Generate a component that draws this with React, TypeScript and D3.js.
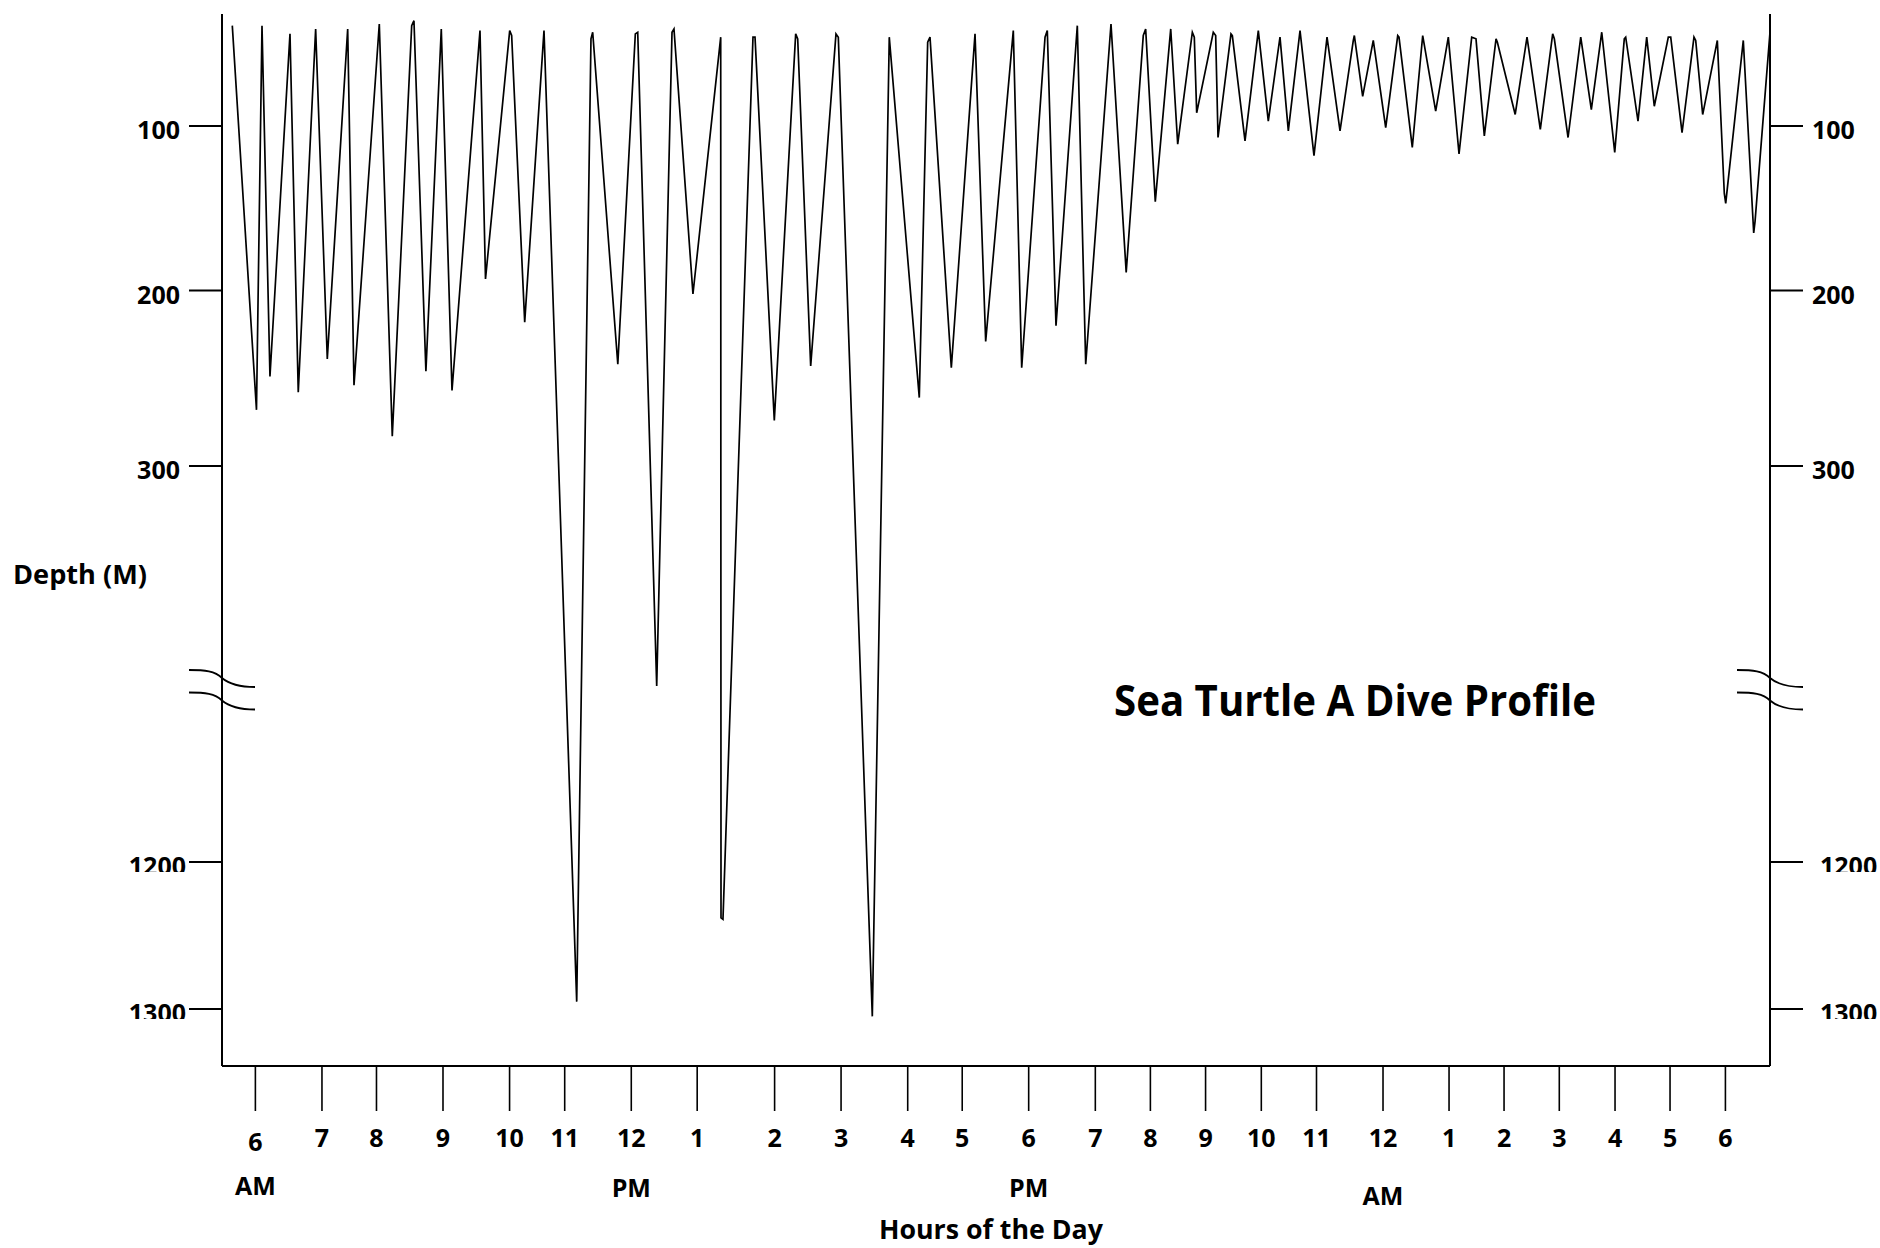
import * as d3 from "d3";

const WIDTH = 1880;
const HEIGHT = 1248;

// Hours of the day (decimal, 30 = 6 AM next day) at which the axis ticks sit
const tickHours = [
  6.0, 7.087, 7.977, 9.063, 10.15, 11.05, 12.137, 13.213, 14.477, 15.562, 16.65, 17.54,
  18.625, 19.713, 20.612, 21.513, 22.423, 23.324, 24.41, 25.488, 26.386, 27.288, 28.198,
  29.096, 30.0,
];
const tickLabels = [
  "6", "7", "8", "9", "10", "11", "12", "1", "2", "3", "4", "5",
  "6", "7", "8", "9", "10", "11", "12", "1", "2", "3", "4", "5", "6",
];
const periodLabels = ["AM", "PM", "PM", "AM"];
const periodHours = [6.0, 12.137, 18.625, 24.41];

const depthTicks = [100, 200, 300, 1200, 1300];
// depths hidden by the axis break
const BREAK_FROM = 420;
const BREAK_TO = 1100;

// Dive profile: time (hours) and depth (m) of every turning point
const diveHours = [
  5.623, 6.018, 6.108, 6.238, 6.565, 6.7, 6.984, 7.174, 7.507, 7.61, 8.023, 8.235,
  8.552, 8.589, 8.784, 9.035, 9.21, 9.667, 9.757, 10.152, 10.184, 10.397, 10.712, 11.246,
  11.479, 11.507, 11.917, 12.203, 12.242, 12.552, 12.802, 12.834, 13.144, 13.597, 13.602, 13.634,
  14.124, 14.157, 14.472, 14.821, 14.854, 15.066, 15.479, 15.517, 16.072, 16.349, 16.839, 16.976,
  17.014, 17.362, 17.749, 17.923, 18.374, 18.511, 18.892, 18.929, 19.071, 19.419, 19.556, 19.969,
  20.217, 20.496, 20.535, 20.692, 20.944, 21.058, 21.297, 21.329, 21.368, 21.639, 21.678, 21.716,
  21.928, 21.95, 22.157, 22.374, 22.537, 22.728, 22.864, 23.055, 23.283, 23.496, 23.708, 23.925,
  23.942, 24.078, 24.251, 24.454, 24.65, 24.671, 24.888, 25.058, 25.27, 25.476, 25.651, 25.858,
  25.928, 26.064, 26.255, 26.276, 26.568, 26.761, 26.978, 27.18, 27.207, 27.431, 27.638, 27.811,
  27.981, 28.193, 28.349, 28.372, 28.573, 28.715, 28.839, 29.068, 29.107, 29.292, 29.487, 29.515,
  29.629, 29.651, 29.868, 29.982, 30.005, 30.292, 30.462, 30.484, 30.73,
];
const diveDepths = [
  39, 268, 39, 249, 44, 258, 41, 239, 41, 254, 38, 283,
  39, 36, 246, 41, 257, 42, 193, 42, 45, 218, 42, 1295,
  47, 43, 242, 44, 43, 594, 43, 41, 202, 46, 1238, 1239,
  46, 46, 274, 44, 47, 243, 44, 46, 1305, 46, 261, 49,
  46, 244, 44, 229, 42, 244, 46, 42, 220, 39, 242, 38,
  189, 45, 41, 146, 41, 111, 43, 46, 92, 43, 45, 107,
  44, 45, 109, 42, 97, 46, 103, 42, 118, 46, 103, 48,
  45, 82, 48, 101, 45, 46, 113, 45, 91, 46, 117, 46,
  47, 106, 47, 49, 93, 46, 102, 44, 47, 107, 46, 90,
  43, 116, 47, 46, 97, 46, 88, 46, 46, 104, 46, 48,
  93, 89, 48, 141, 147, 48, 165, 158, 42,
];

const FONT = "'Open Sans', 'DejaVu Sans', sans-serif";
const AXIS_TOP = 14;
const AXIS_BOTTOM = 1066;
const Y_TICK = 33;
const X_TICK = 45;
// small vertical offsets of the AM/PM labels, as placed in the original
const PERIOD_DY = [-2, 0, 0, 8];

export default function App() {
  const xScale = d3.scaleLinear().domain([5.455, 30.728]).range([222, 1770]);
  // broken, slightly uneven depth axis as drawn in the original
  const yScale = d3
    .scaleLinear()
    .domain([100, 200, 300, BREAK_FROM, BREAK_TO, 1200, 1300])
    .range([126, 290.5, 466, 676, 715, 862, 1009]);

  const [left, right] = xScale.range();

  const points = diveHours.map((h, i) => [h, diveDepths[i]] as [number, number]);
  const line = d3
    .line<[number, number]>()
    .x((d) => xScale(d[0]))
    .y((d) => yScale(d[1]));

  const breakY = yScale(BREAK_FROM) - 6;
  const breakMark = (cx: number, y0: number) =>
    `M${cx - 33},${y0} C${cx - 17},${y0} ${cx - 7},${y0 + 1} ${cx},${y0 + 8} ` +
    `C${cx + 7},${y0 + 14} ${cx + 18},${y0 + 17} ${cx + 33},${y0 + 17}`;

  const lowerTicks = depthTicks.filter((t) => t > BREAK_TO);

  return (
    <svg
      width={WIDTH}
      height={HEIGHT}
      style={{ position: "absolute", left: 0, top: 0, background: "#fff" }}
      fontFamily={FONT}
      fontWeight={700}
    >
      <defs>
        {lowerTicks.map((t) => (
          <clipPath key={t} id={`clip-${t}`}>
            <rect x={0} y={yScale(t) - 20} width={WIDTH} height={30} />
          </clipPath>
        ))}
      </defs>

      {/* dive profile */}
      <path d={line(points) ?? ""} fill="none" stroke="#000" strokeWidth={1.7} />

      {/* frame */}
      <g stroke="#000" strokeWidth={2} fill="none">
        <line x1={left} x2={left} y1={AXIS_TOP} y2={AXIS_BOTTOM} />
        <line x1={right} x2={right} y1={AXIS_TOP} y2={AXIS_BOTTOM} />
        <line x1={left} x2={right} y1={AXIS_BOTTOM} y2={AXIS_BOTTOM} />
      </g>

      {/* axis break marks */}
      <g stroke="#000" strokeWidth={1.8} fill="none">
        {[left, right].map((cx) =>
          [0, 22.5].map((dy) => <path key={`${cx}-${dy}`} d={breakMark(cx, breakY + dy)} />)
        )}
      </g>

      {/* depth ticks, both sides */}
      {depthTicks.map((t) => {
        const y = yScale(t);
        const lower = t > BREAK_TO;
        const clip = lower ? `url(#clip-${t})` : undefined;
        return (
          <g key={t}>
            <line x1={left - Y_TICK} x2={left} y1={y} y2={y} stroke="#000" strokeWidth={2} />
            <line x1={right} x2={right + Y_TICK} y1={y} y2={y} stroke="#000" strokeWidth={2} />
            <text x={lower ? left - 36 : left - 42} y={y + 13} fontSize={25} textAnchor="end" clipPath={clip}>
              {t}
            </text>
            <text x={lower ? right + 50 : right + 42} y={y + 13} fontSize={25} textAnchor="start" clipPath={clip}>
              {t}
            </text>
          </g>
        );
      })}

      {/* hour ticks */}
      {tickHours.map((h, i) => {
        const x = xScale(h);
        return (
          <g key={i}>
            <line x1={x} x2={x} y1={AXIS_BOTTOM} y2={AXIS_BOTTOM + X_TICK} stroke="#000" strokeWidth={1.6} />
            <text x={x} y={i === 0 ? 1151 : 1147} fontSize={25} textAnchor="middle">
              {tickLabels[i]}
            </text>
          </g>
        );
      })}

      {periodLabels.map((p, i) => (
        <text key={i} x={xScale(periodHours[i])} y={1197 + PERIOD_DY[i]} fontSize={25} textAnchor="middle">
          {p}
        </text>
      ))}

      <text x={991} y={1239} fontSize={26} textAnchor="middle" textLength={224} lengthAdjust="spacingAndGlyphs">
        Hours of the Day
      </text>
      <text x={13} y={584} fontSize={26} textLength={134} lengthAdjust="spacingAndGlyphs">
        Depth (M)
      </text>
      <text x={1355} y={716} fontSize={43} textAnchor="middle" textLength={482} lengthAdjust="spacingAndGlyphs">
        Sea Turtle A Dive Profile
      </text>
    </svg>
  );
}
